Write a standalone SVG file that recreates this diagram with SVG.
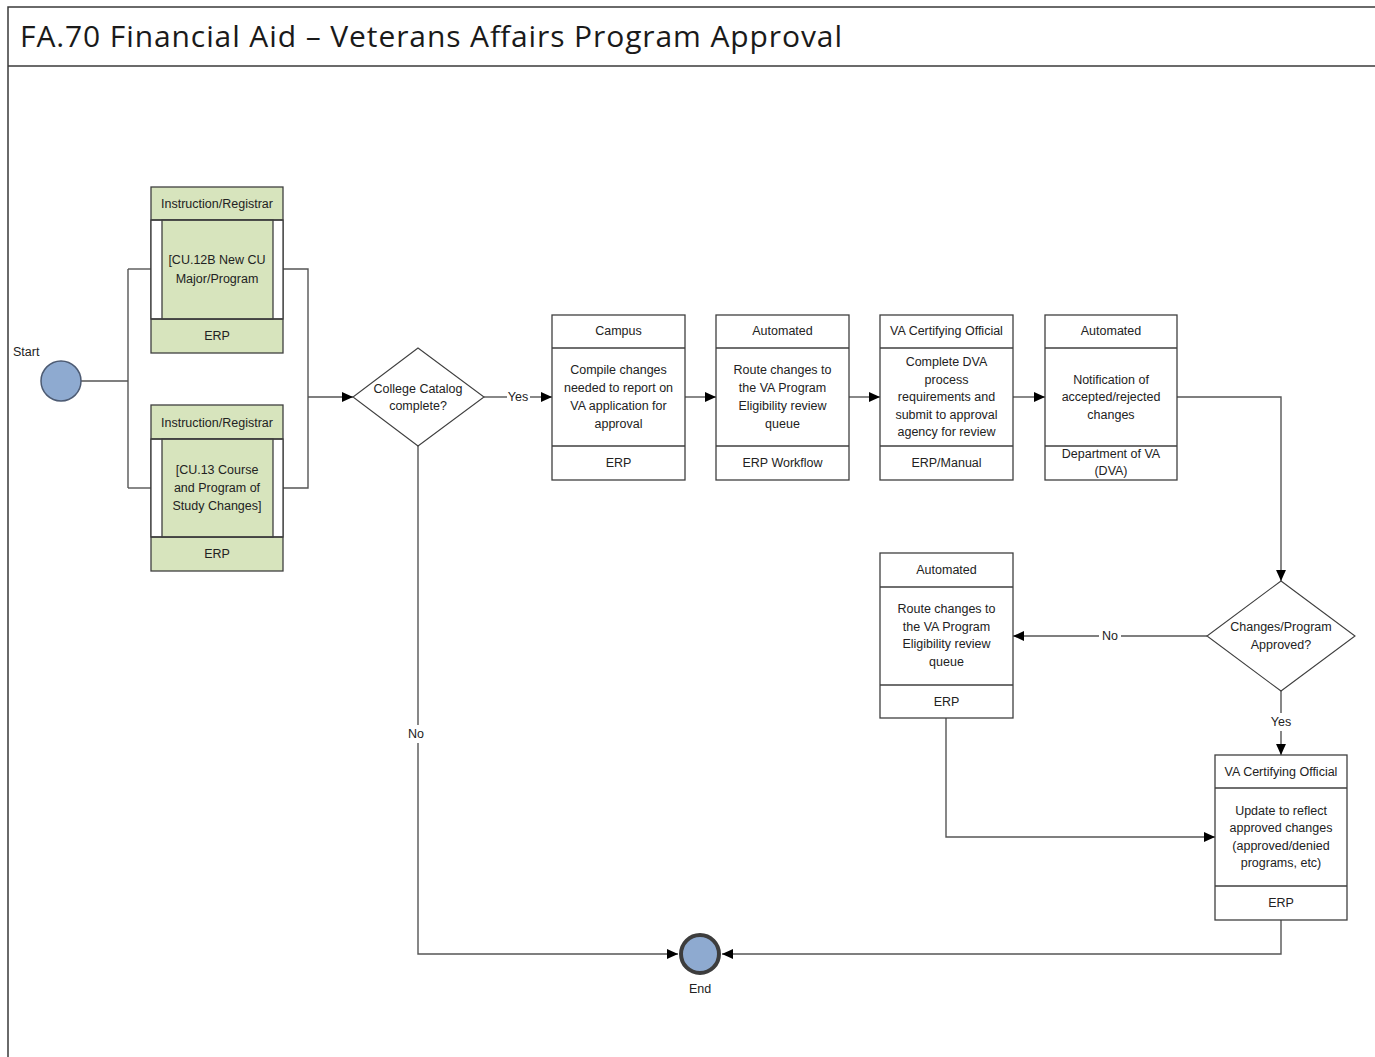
<svg xmlns="http://www.w3.org/2000/svg" width="1375" height="1057" viewBox="0 0 1375 1057">
  <style>
    .frame { fill: none; stroke: #3a3a3a; stroke-width: 1.5; }
    .box { fill: #ffffff; stroke: #3f3f3f; stroke-width: 1.3; }
    .gbox { fill: #d7e4bd; stroke: #3f3f3f; stroke-width: 1.3; }
    .wstrip { fill: #ffffff; stroke: #3f3f3f; stroke-width: 1.3; }
    .div { stroke: #3f3f3f; stroke-width: 1.3; }
    .dia { fill: #ffffff; stroke: #3f3f3f; stroke-width: 1.1; }
    .wire { fill: none; stroke: #555555; stroke-width: 1.4; }
    .t { font-family: "Liberation Sans", Arial, sans-serif; font-size: 12.5px; fill: #222222; text-anchor: middle; }
    .lbl { font-family: "Liberation Sans", Arial, sans-serif; font-size: 12.5px; fill: #222222; }
    .title { font-family: "Open Sans", "Liberation Sans", sans-serif; font-size: 30px; fill: #1a1a1a; }
    .ev { fill: #8eaad0; stroke: #4d5b73; stroke-width: 1.5; }
    .evEnd { fill: #8eaad0; stroke: #3d3d3d; stroke-width: 4; }
  </style>
  <defs>
    <marker id="arrow" viewBox="0 0 10 10" refX="10" refY="5" markerWidth="11" markerHeight="11" markerUnits="userSpaceOnUse" orient="auto">
      <path d="M0,0.5 L10,5 L0,9.5 Z" fill="#000000"/>
    </marker>
  </defs>

  <!-- page frame and title band -->
  <g id="frame">
    <path class="frame" d="M1375,7 H8 V1057"/>
    <line class="frame" x1="8" y1="66" x2="1375" y2="66"/>
    <text class="title" x="20" y="47" textLength="822" lengthAdjust="spacing">FA.70 Financial Aid – Veterans Affairs Program Approval</text>
  </g>

  <!-- connectors -->
  <g id="connectors">
    <path class="wire" d="M81,381 H128"/>
    <path class="wire" d="M128,269 V488"/>
    <path class="wire" d="M128,269 H151"/>
    <path class="wire" d="M128,488 H151"/>
    <path class="wire" d="M283,269 H308 V488 H283"/>
    <path class="wire" d="M308,397 H353" marker-end="url(#arrow)"/>
    <path class="wire" d="M484,397 H507"/>
    <path class="wire" d="M530,397 H552" marker-end="url(#arrow)"/>
    <path class="wire" d="M685,397 H716" marker-end="url(#arrow)"/>
    <path class="wire" d="M849,397 H880" marker-end="url(#arrow)"/>
    <path class="wire" d="M1013,397 H1045" marker-end="url(#arrow)"/>
    <path class="wire" d="M1177,397 H1281 V581" marker-end="url(#arrow)"/>
    <path class="wire" d="M1207,636 H1121"/>
    <path class="wire" d="M1099,636 H1013" marker-end="url(#arrow)"/>
    <path class="wire" d="M1281,691 V713"/>
    <path class="wire" d="M1281,731 V755" marker-end="url(#arrow)"/>
    <path class="wire" d="M946,718 V837 H1215" marker-end="url(#arrow)"/>
    <path class="wire" d="M1281,920 V954 H722" marker-end="url(#arrow)"/>
    <path class="wire" d="M418,446 V725"/>
    <path class="wire" d="M418,743 V954 H678" marker-end="url(#arrow)"/>
    <text class="t" x="518" y="401">Yes</text>
    <text class="t" x="1110" y="640">No</text>
    <text class="t" x="1281" y="726">Yes</text>
    <text class="t" x="416" y="738">No</text>
  </g>

  <!-- start event -->
  <g id="start">
    <circle class="ev" cx="61" cy="381" r="20"/>
    <text class="lbl" x="13" y="356">Start</text>
  </g>

  <!-- sub-process: CU.12B -->
  <g id="cu12b">
    <rect class="gbox" x="151" y="187" width="132" height="166"/>
    <rect class="wstrip" x="151" y="220" width="132" height="99"/>
    <rect class="gbox" x="162" y="220" width="111" height="99"/>
    <line class="div" x1="151" y1="220" x2="283" y2="220"/>
    <line class="div" x1="151" y1="319" x2="283" y2="319"/>
    <text class="t" x="217" y="208">Instruction/Registrar</text>
    <text class="t" x="217" y="264">[CU.12B New CU</text>
    <text class="t" x="217" y="283">Major/Program</text>
    <text class="t" x="217" y="340">ERP</text>
  </g>

  <!-- sub-process: CU.13 -->
  <g id="cu13">
    <rect class="gbox" x="151" y="405" width="132" height="166"/>
    <rect class="wstrip" x="151" y="439" width="132" height="98"/>
    <rect class="gbox" x="162" y="439" width="111" height="98"/>
    <line class="div" x1="151" y1="439" x2="283" y2="439"/>
    <line class="div" x1="151" y1="537" x2="283" y2="537"/>
    <text class="t" x="217" y="427">Instruction/Registrar</text>
    <text class="t" x="217" y="474">[CU.13 Course</text>
    <text class="t" x="217" y="492">and Program of</text>
    <text class="t" x="217" y="510">Study Changes]</text>
    <text class="t" x="217" y="558">ERP</text>
  </g>

  <!-- decision: catalog -->
  <g id="catalog-decision">
    <polygon class="dia" points="418,348 484,397 418,446 353,397"/>
    <text class="t" x="418" y="393">College Catalog</text>
    <text class="t" x="418" y="410">complete?</text>
  </g>

  <!-- task: compile changes -->
  <g id="compile">
    <rect class="box" x="552" y="315" width="133" height="165"/>
    <line class="div" x1="552" y1="348" x2="685" y2="348"/>
    <line class="div" x1="552" y1="446" x2="685" y2="446"/>
    <text class="t" x="618.5" y="335">Campus</text>
    <text class="t" x="618.5" y="374">Compile changes</text>
    <text class="t" x="618.5" y="392">needed to report on</text>
    <text class="t" x="618.5" y="410">VA application for</text>
    <text class="t" x="618.5" y="428">approval</text>
    <text class="t" x="618.5" y="467">ERP</text>
  </g>

  <!-- task: route to review queue -->
  <g id="route1">
    <rect class="box" x="716" y="315" width="133" height="165"/>
    <line class="div" x1="716" y1="348" x2="849" y2="348"/>
    <line class="div" x1="716" y1="446" x2="849" y2="446"/>
    <text class="t" x="782.5" y="335">Automated</text>
    <text class="t" x="782.5" y="374">Route changes to</text>
    <text class="t" x="782.5" y="392">the VA Program</text>
    <text class="t" x="782.5" y="410">Eligibility review</text>
    <text class="t" x="782.5" y="428">queue</text>
    <text class="t" x="782.5" y="467">ERP Workflow</text>
  </g>

  <!-- task: complete DVA process -->
  <g id="dva-process">
    <rect class="box" x="880" y="315" width="133" height="165"/>
    <line class="div" x1="880" y1="348" x2="1013" y2="348"/>
    <line class="div" x1="880" y1="446" x2="1013" y2="446"/>
    <text class="t" x="946.5" y="335">VA Certifying Official</text>
    <text class="t" x="946.5" y="366">Complete DVA</text>
    <text class="t" x="946.5" y="384">process</text>
    <text class="t" x="946.5" y="401">requirements and</text>
    <text class="t" x="946.5" y="419">submit to approval</text>
    <text class="t" x="946.5" y="436">agency for review</text>
    <text class="t" x="946.5" y="467">ERP/Manual</text>
  </g>

  <!-- task: notification -->
  <g id="notify">
    <rect class="box" x="1045" y="315" width="132" height="165"/>
    <line class="div" x1="1045" y1="348" x2="1177" y2="348"/>
    <line class="div" x1="1045" y1="446" x2="1177" y2="446"/>
    <text class="t" x="1111" y="335">Automated</text>
    <text class="t" x="1111" y="384">Notification of</text>
    <text class="t" x="1111" y="401">accepted/rejected</text>
    <text class="t" x="1111" y="419">changes</text>
    <text class="t" x="1111" y="458">Department of VA</text>
    <text class="t" x="1111" y="475">(DVA)</text>
  </g>

  <!-- decision: approved -->
  <g id="approved-decision">
    <polygon class="dia" points="1281,581 1355,636 1281,691 1207,636"/>
    <text class="t" x="1281" y="631">Changes/Program</text>
    <text class="t" x="1281" y="649">Approved?</text>
  </g>

  <!-- task: route after rejection -->
  <g id="route2">
    <rect class="box" x="880" y="553" width="133" height="165"/>
    <line class="div" x1="880" y1="587" x2="1013" y2="587"/>
    <line class="div" x1="880" y1="685" x2="1013" y2="685"/>
    <text class="t" x="946.5" y="574">Automated</text>
    <text class="t" x="946.5" y="613">Route changes to</text>
    <text class="t" x="946.5" y="631">the VA Program</text>
    <text class="t" x="946.5" y="648">Eligibility review</text>
    <text class="t" x="946.5" y="666">queue</text>
    <text class="t" x="946.5" y="706">ERP</text>
  </g>

  <!-- task: update records -->
  <g id="update">
    <rect class="box" x="1215" y="755" width="132" height="165"/>
    <line class="div" x1="1215" y1="788" x2="1347" y2="788"/>
    <line class="div" x1="1215" y1="886" x2="1347" y2="886"/>
    <text class="t" x="1281" y="776">VA Certifying Official</text>
    <text class="t" x="1281" y="815">Update to reflect</text>
    <text class="t" x="1281" y="832">approved changes</text>
    <text class="t" x="1281" y="850">(approved/denied</text>
    <text class="t" x="1281" y="867">programs, etc)</text>
    <text class="t" x="1281" y="907">ERP</text>
  </g>

  <!-- end event -->
  <g id="end">
    <circle class="evEnd" cx="700" cy="954" r="19"/>
    <text class="t" x="700" y="993">End</text>
  </g>
</svg>
